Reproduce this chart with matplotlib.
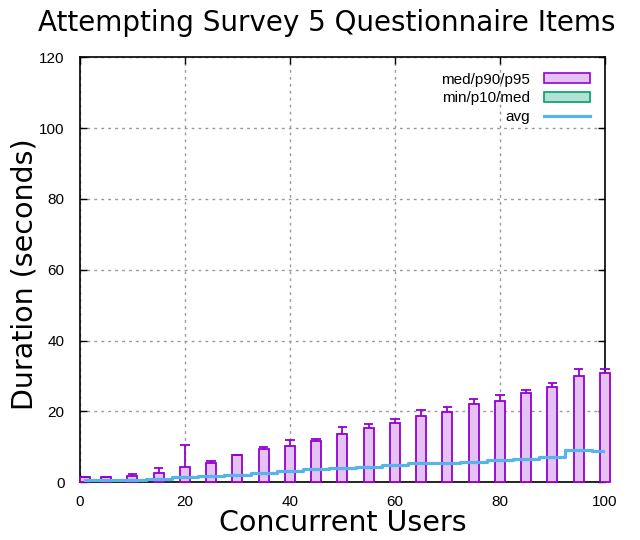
import matplotlib
matplotlib.use('Agg')
from matplotlib import pyplot as plt
from matplotlib.patches import Patch
from matplotlib.lines import Line2D

users = [1, 5, 10, 15, 20, 25, 30, 35, 40, 45, 50, 55, 60, 65, 70, 75, 80, 85, 90, 95, 100]
p_min = [0] * 21
p10 = [0] * 21
med = [0] * 21
p90 = [1.4, 1.4, 1.7, 2.7, 4.2, 5.5, 7.6, 9.5, 10.3, 11.5, 13.7, 15.4, 16.8, 18.8, 19.9,
       22.2, 23.0, 25.3, 27.0, 30.1, 30.9]
p95 = [1.5, 1.5, 2.2, 3.9, 10.6, 6.1, 7.8, 10.0, 11.8, 12.3, 15.7, 16.3, 17.9, 20.5, 21.3,
       23.6, 24.7, 26.1, 28.1, 32.0, 32.0]
avg = [0.6, 0.6, 0.6, 0.9, 1.5, 1.7, 2.1, 2.5, 3.1, 3.7, 4.0, 4.3, 5.0, 5.4, 5.4,
       5.8, 6.3, 6.6, 7.0, 9.1, 8.7]

purple = '#9400d3'
purple_fill = '#e4c2f4'
green = '#009e73'
green_fill = '#b3e2d5'
blue = '#56b4e9'

fig = plt.figure(figsize=(6.4, 5.4), dpi=100)
ax = fig.add_axes([0.125, 0.107, 0.82, 0.787])

w = 1.9
cap = 0.9
# upper boxes: med -> p90, whisker to p95
ax.bar(users, [b - a for a, b in zip(med, p90)], bottom=med, width=w,
       facecolor=purple_fill, edgecolor=purple, linewidth=1.3, zorder=3, clip_on=False)
ax.vlines(users, p90, p95, color=purple, linewidth=1.3, zorder=3)
ax.hlines(p95, [u - cap for u in users], [u + cap for u in users], color=purple,
          linewidth=1.3, zorder=3, clip_on=False)
# lower boxes: p10 -> med, whisker to min
ax.bar(users, [b - a for a, b in zip(p10, med)], bottom=p10, width=w,
       facecolor=green_fill, edgecolor=green_fill, linewidth=1.0, zorder=2, alpha=0.6)
ax.plot(users, avg, color=blue, linewidth=2.3, drawstyle='steps-mid', zorder=4)

ax.set_xlim(0, 100)
ax.set_ylim(0, 120)
ax.set_xticks(range(0, 101, 20))
ax.set_yticks(range(0, 121, 20))
ax.tick_params(direction='in', top=True, right=True, length=5, width=1, labelsize=11)
ax.tick_params(axis='y', pad=11)
ax.tick_params(axis='x', pad=9)
for lab in ax.get_xticklabels() + ax.get_yticklabels():
    lab.set_family('Liberation Sans')
ax.grid(True, color='#999999', linestyle=(0, (2, 3)), linewidth=1.0)
for s in ax.spines.values():
    s.set_linewidth(1.2)

fig.text(0.51, 0.958, 'Attempting Survey 5 Questionnaire Items', ha='center', va='center',
         fontsize=20, family='DejaVu Sans')
ax.set_xlabel('Concurrent Users', fontsize=20.5, labelpad=0)
ax.set_ylabel('Duration (seconds)', fontsize=20.5, labelpad=0)
ax.yaxis.set_label_coords(-0.08, 0.49)

handles = [Patch(facecolor=purple_fill, edgecolor=purple, linewidth=1.2),
           Patch(facecolor=green_fill, edgecolor=green, linewidth=1.2),
           Line2D([], [], color=blue, linewidth=2.3)]
ax.legend(handles, ['med/p90/p95', 'min/p10/med', 'avg'], loc='upper right',
          frameon=False, markerfirst=False, alignment='right',
          prop={'family': 'Liberation Sans', 'size': 11}, handlelength=3.0,
          handleheight=0.6, labelspacing=0.3, borderaxespad=0.6, handletextpad=0.9)

plt.savefig('out.png', dpi=100)
